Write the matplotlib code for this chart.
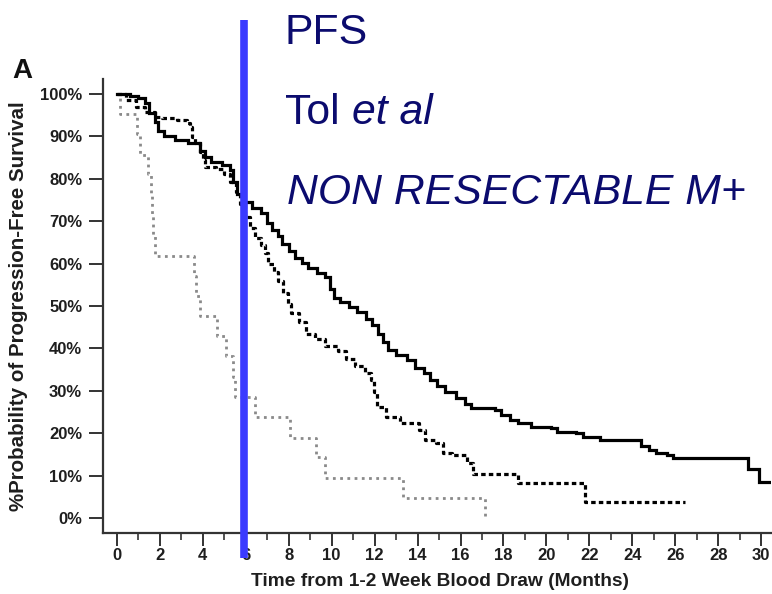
import matplotlib
matplotlib.use("Agg")
import matplotlib.pyplot as plt
from matplotlib.ticker import MultipleLocator, FuncFormatter

plt.rcParams["font.family"] = ["Liberation Sans", "DejaVu Sans"]

# Kaplan-Meier step curves: time of each step (months) and survival after it (%)
solid_t = [0.0, 0.6, 1.0, 1.3, 1.5, 1.75, 1.9, 2.2, 2.7, 3.3, 3.85, 4.1, 4.4, 4.9,
           5.25, 5.4, 5.6, 5.9, 6.3, 6.7, 7.0, 7.2, 7.5, 7.7, 8.0, 8.3, 8.6, 8.9,
           9.3, 9.7, 9.9, 10.1, 10.4, 10.8, 11.2, 11.6, 11.9, 12.15, 12.4, 12.6,
           13.0, 13.5, 13.9, 14.3, 14.6, 14.9, 15.3, 15.8, 16.2, 16.5, 17.6, 17.9,
           18.3, 18.7, 19.3, 20.2, 20.5, 21.4, 21.7, 22.5, 24.4, 24.8, 25.1, 25.6,
           25.9, 29.4, 29.9, 30.6]
solid_p = [100, 99.5, 99.0, 97.9, 95.5, 93.4, 91.2, 90.0, 89.2, 88.3, 86.5, 85.1,
           84.0, 83.3, 82.0, 79.2, 76.5, 74.5, 73.1, 72.0, 69.5, 68.0, 66.5, 64.5,
           63.0, 61.3, 60.2, 59.0, 57.8, 56.8, 54.0, 52.0, 51.0, 49.8, 48.6, 47.0,
           45.5, 43.5, 41.5, 39.6, 38.4, 37.3, 35.4, 34.2, 32.5, 31.2, 29.8, 28.3,
           26.8, 25.9, 25.5, 24.3, 23.2, 22.4, 21.5, 21.2, 20.3, 20.0, 19.1, 18.4,
           17.0, 16.0, 15.4, 14.8, 14.2, 11.6, 8.5, 8.5]

dashed_t = [0.0, 0.4, 0.9, 1.3, 1.75, 2.1, 2.8, 3.25, 3.4, 3.5, 3.63, 3.85, 4.0,
            4.1, 4.6, 5.0, 5.25, 5.55, 5.75, 5.95, 6.2, 6.45, 6.7, 6.9, 7.05, 7.3,
            7.5, 7.75, 7.95, 8.1, 8.5, 8.8, 9.2, 9.7, 10.3, 10.65, 11.1, 11.55,
            11.85, 11.95, 12.1, 12.55, 13.2, 14.05, 14.35, 14.85, 15.2, 15.6, 16.3,
            16.6, 18.7, 21.8, 26.45]
dashed_p = [100, 98.5, 97.0, 95.8, 94.6, 94.3, 93.9, 93.2, 92.2, 89.9, 88.4, 86.3,
            84.4, 82.8, 82.3, 81.2, 79.2, 76.9, 74.0, 71.0, 68.4, 66.0, 64.3, 62.5,
            60.0, 58.0, 56.0, 53.0, 50.5, 48.3, 46.2, 43.5, 42.3, 40.5, 39.3, 37.5,
            35.8, 34.3, 32.5, 29.8, 26.2, 23.8, 22.4, 20.8, 18.4, 17.8, 15.3, 14.8,
            13.0, 10.4, 8.2, 3.8, 3.8]

dotted_t = [0.0, 0.15, 0.93, 1.07, 1.45, 1.6, 1.65, 1.7, 1.77, 3.58, 3.7, 3.85,
            4.68, 5.1, 5.4, 5.5, 6.43, 8.06, 9.25, 9.7, 13.3, 17.15]
dotted_p = [100, 95.2, 90.5, 85.7, 81.0, 76.2, 71.4, 66.7, 61.9, 57.1, 52.4, 47.6,
            42.9, 38.1, 33.3, 28.6, 23.8, 19.0, 14.3, 9.5, 4.8, 0]

landmark_month = 5.9

x_ticks = list(range(0, 31, 2))
y_ticks = list(range(0, 101, 10))

title_lines = ["PFS", "Tol", "NON RESECTABLE M+"]

W, H = 772, 594
fig = plt.figure(figsize=(W / 100, H / 100), dpi=100)
ax = fig.add_axes([103 / W, 1 - 533 / H, 668 / W, 454 / H])

ax.plot(solid_t, solid_p, drawstyle="steps-post", color="black", lw=2.3,
        solid_joinstyle="miter", zorder=3)
ax.plot(dashed_t, dashed_p, drawstyle="steps-post", color="black", lw=2.3,
        linestyle=(0, (1.4, 1.0)), zorder=3)
ax.plot(dotted_t, dotted_p, drawstyle="steps-post", color="#8a8a8a", lw=2.0,
        linestyle=(0, (1.0, 1.6)), zorder=2)

ax.set_xlim(-0.65, 30.46)
ax.set_ylim(-3.5, 103.5)

for side in ("top", "right"):
    ax.spines[side].set_visible(False)
for side in ("left", "bottom"):
    ax.spines[side].set_color("#333333")
    ax.spines[side].set_linewidth(1.6)

ax.set_xticks(x_ticks)
ax.xaxis.set_minor_locator(MultipleLocator(1))
ax.set_yticks(y_ticks)
ax.yaxis.set_major_formatter(FuncFormatter(lambda v, _: f"{int(v)}%"))

ax.tick_params(axis="y", direction="out", length=10, width=1.4, pad=5,
               labelsize=12, color="#333333", labelcolor="#1e1e1e")
ax.tick_params(axis="x", which="major", direction="out", length=9, width=1.4,
               pad=2, labelsize=12, color="#333333", labelcolor="#1e1e1e")
ax.tick_params(axis="x", which="minor", direction="out", length=5, width=1.2,
               color="#333333")
for lab in ax.get_xticklabels() + ax.get_yticklabels():
    lab.set_fontweight("bold")

ax.set_xlabel("Time from 1-2 Week Blood Draw (Months)", fontsize=13.8,
              fontweight="bold", color="#1e1e1e")
ax.xaxis.set_label_coords(0.5045, -0.106)
ax.xaxis.label.set_va("center")
ax.set_ylabel("%Probability of Progression-Free Survival", fontsize=14.8,
              fontweight="bold", color="#1e1e1e")
ax.yaxis.set_label_coords(-0.126, 0.5)
ax.yaxis.label.set_va("center")

fig.text(12 / W, 1 - 78 / H, "A", fontsize=20, fontweight="bold",
         color="#111111", va="baseline", ha="left")

# landmark line drawn across the plot and beyond its top
ax.plot([landmark_month, landmark_month], [117.5, -9.3], color="#3a3aff",
        lw=5.5, solid_capstyle="butt", clip_on=False, zorder=10)

navy = "#0b0b6e"
fs_title = 30.8
fig.text(284 / W, 1 - 44 / H, title_lines[0], fontsize=fs_title, color=navy,
         va="baseline", ha="left")
t2 = fig.text(285 / W, 1 - 124 / H, title_lines[1] + " ", fontsize=fs_title,
              color=navy, va="baseline", ha="left")
fig.canvas.draw()
bb = t2.get_window_extent()
fig.text(bb.x1 / W, 1 - 124 / H, "et al", fontsize=fs_title, color=navy,
         style="italic", va="baseline", ha="left")
fig.text(287 / W, 1 - 204 / H, title_lines[2], fontsize=fs_title, color=navy,
         style="italic", va="baseline", ha="left")

fig.savefig("out.png", dpi=100)
